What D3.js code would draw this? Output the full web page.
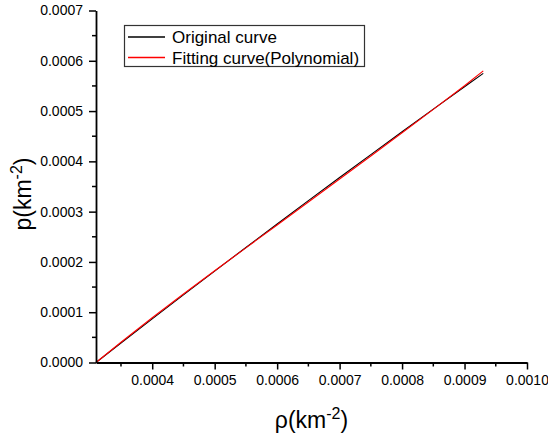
<!DOCTYPE html>
<html>
<head>
<meta charset="utf-8">
<script src="https://cdn.jsdelivr.net/npm/d3@7"></script>
<style>
  body { margin: 0; background: #fff; }
  text { font-family: "Liberation Sans", Arial, sans-serif; fill: #000; }
</style>
</head>
<body>
<div id="chart"></div>
<script>
var width = 548;
var height = 438;

// density values (x) and the two pressure curves (y)
var rho = [0.00031, 0.00035, 0.0004, 0.00045, 0.0005, 0.00055, 0.0006, 0.00065,
           0.0007, 0.00075, 0.0008, 0.00085, 0.0009, 0.00093];
var originalCurve = [0, 0.0000387, 0.0000867, 0.0001345, 0.0001818, 0.0002288, 0.0002755,
                     0.0003219, 0.0003679, 0.0004135, 0.0004588, 0.0005038, 0.0005484, 0.000575];
var fittingCurve = [0, 0.0000402, 0.0000889, 0.0001363, 0.0001824, 0.000228, 0.0002735,
                    0.0003191, 0.0003649, 0.0004107, 0.0004568, 0.0005033, 0.0005504, 0.00058];

var xTicks = [0.0004, 0.0005, 0.0006, 0.0007, 0.0008, 0.0009, 0.0010];
var xMinor = [0.00035, 0.00045, 0.00055, 0.00065, 0.00075, 0.00085, 0.00095];
var yTicks = [0, 0.0001, 0.0002, 0.0003, 0.0004, 0.0005, 0.0006, 0.0007];
var yMinor = [0.00005, 0.00015, 0.00025, 0.00035, 0.00045, 0.00055, 0.00065];

var seriesNames = ['Original curve', 'Fitting curve(Polynomial)'];
var seriesColors = ['#000000', '#ff0000'];

var plotLeft = 96, plotRight = 527, plotTop = 10.5, plotBottom = 362.5;

var svg = d3.select('#chart')
            .append('svg')
            .attr('width', width)
            .attr('height', height);

var x = d3.scaleLinear().domain([0.00031, 0.0010]).range([plotLeft, plotRight]);
var y = d3.scaleLinear().domain([0, 0.0007]).range([plotBottom, plotTop]);

// curves
var line = d3.line()
  .x(function(d) { return x(d[0]); })
  .y(function(d) { return y(d[1]); });

[originalCurve, fittingCurve].forEach(function(vals, i) {
  svg.append('path')
    .datum(d3.zip(rho, vals))
    .attr('d', line)
    .attr('fill', 'none')
    .attr('stroke', seriesColors[i])
    .attr('stroke-width', 1.1);
});

// minor ticks
svg.append('g').selectAll('line').data(xMinor).enter().append('line')
  .attr('x1', function(d) { return x(d); }).attr('x2', function(d) { return x(d); })
  .attr('y1', plotBottom).attr('y2', plotBottom + 4)
  .attr('stroke', '#000').attr('stroke-width', 1.5);
svg.append('g').selectAll('line').data(yMinor).enter().append('line')
  .attr('y1', function(d) { return y(d); }).attr('y2', function(d) { return y(d); })
  .attr('x1', plotLeft - 4).attr('x2', plotLeft)
  .attr('stroke', '#000').attr('stroke-width', 1.5);

// axes
var xAxis = svg.append('g')
  .attr('transform', 'translate(0,' + plotBottom + ')')
  .call(d3.axisBottom(x).tickValues(xTicks).tickSize(7).tickPadding(6).tickSizeOuter(0)
        .tickFormat(d3.format('.4f')));
var yAxis = svg.append('g')
  .attr('transform', 'translate(' + plotLeft + ',0)')
  .call(d3.axisLeft(y).tickValues(yTicks).tickSize(7).tickPadding(6).tickSizeOuter(0)
        .tickFormat(d3.format('.4f')));

[xAxis, yAxis].forEach(function(a) {
  a.attr('font-size', null).attr('font-family', null);
  a.select('.domain').attr('stroke-width', 1.8);
  a.selectAll('.tick line').attr('stroke-width', 1.5);
  a.selectAll('.tick text')
    .style('font-size', '14px')
    .attr('fill', '#000');
});

// axis titles
var xTitle = svg.append('text')
  .attr('x', (plotLeft + plotRight) / 2)
  .attr('y', 428)
  .attr('text-anchor', 'middle')
  .style('font-size', '23px');
xTitle.append('tspan').text('ρ(km');
xTitle.append('tspan').attr('dy', -9).style('font-size', '16px').text('-2');
xTitle.append('tspan').attr('dy', 9).text(')');

var yTitle = svg.append('text')
  .attr('transform', 'translate(31,194) rotate(-90)')
  .attr('text-anchor', 'middle')
  .style('font-size', '23px');
yTitle.append('tspan').text('p(km');
yTitle.append('tspan').attr('dy', -9).style('font-size', '16px').text('-2');
yTitle.append('tspan').attr('dy', 9).text(')');

// legend
var legend = svg.append('g');
legend.append('rect')
  .attr('x', 124.5).attr('y', 25.5)
  .attr('width', 240).attr('height', 41)
  .attr('fill', '#fff')
  .attr('stroke', '#333').attr('stroke-width', 1.2);

seriesNames.forEach(function(name, i) {
  var ly = 37 + i * 20.5;
  legend.append('line')
    .attr('x1', 128).attr('x2', 165)
    .attr('y1', ly).attr('y2', ly)
    .attr('stroke', seriesColors[i]).attr('stroke-width', 1.4);
  legend.append('text')
    .attr('x', 172).attr('y', ly + 6)
    .style('font-size', '17px')
    .text(name);
});
</script>
</body>
</html>
